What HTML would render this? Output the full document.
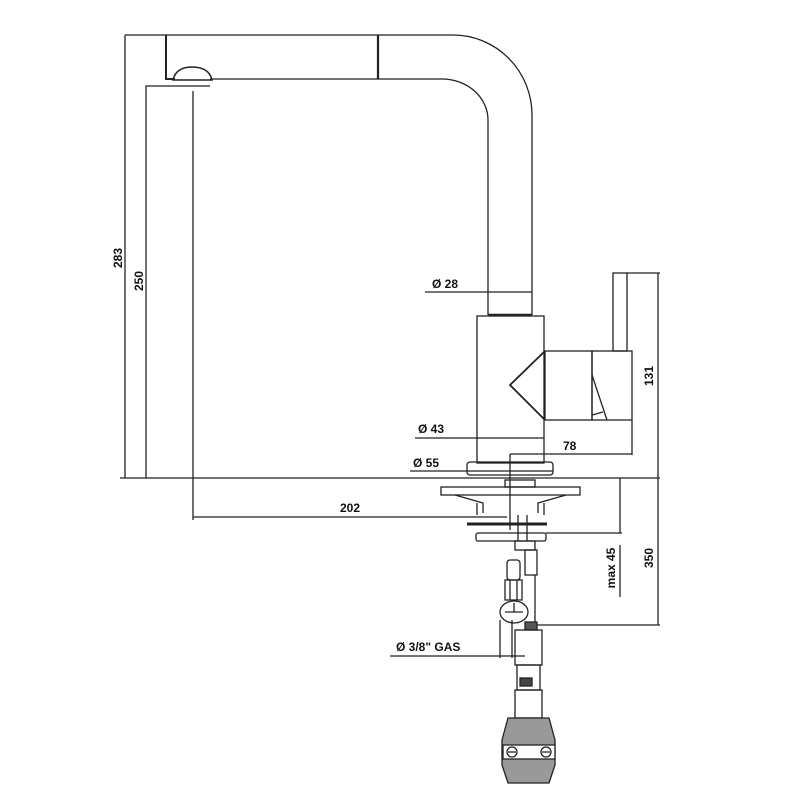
<!DOCTYPE html>
<html><head><style>html,body{margin:0;padding:0;background:#fff;width:800px;height:800px;overflow:hidden}</style></head>
<body>
<svg width="800" height="800" viewBox="0 0 800 800" xmlns="http://www.w3.org/2000/svg" font-family="Liberation Sans, sans-serif" font-weight="bold" font-size="12" fill="none" stroke="#222" stroke-width="1.3">
<!-- spout -->
<path d="M125 35 H453 A79 80 0 0 1 532 115 V315"/>
<path d="M210 79 H442 A46 41 0 0 1 488 120 V315"/>
<path d="M166 35 V79 H175" stroke-width="2"/>
<path d="M378 35 V79" stroke-width="2.2"/>
<path d="M173 80 Q176 67 192 67 Q209 67 212 80 Z" stroke-width="1.5"/>
<path d="M146 478 V86 H210"/>
<path d="M193 91 V520"/>
<!-- 283 / 250 dims -->
<line x1="125" y1="35" x2="125" y2="478"/>
<text x="0" y="0" fill="#111" stroke="none" transform="translate(122,258) rotate(-90)" text-anchor="middle">283</text>
<text x="0" y="0" fill="#111" stroke="none" transform="translate(143,281) rotate(-90)" text-anchor="middle">250</text>
<line x1="488" y1="315" x2="532" y2="315" stroke-width="2.5"/>
<!-- Ø28 -->
<line x1="425" y1="292" x2="532" y2="292"/>
<text x="432" y="288" fill="#111" stroke="none">Ø 28</text>
<!-- body -->
<rect x="477" y="316" width="67" height="147"/>
<path d="M545 351 L510 385 L545 420" stroke-width="1.8"/>
<rect x="545" y="351" width="47" height="69"/>
<rect x="592" y="351" width="40" height="69"/>
<path d="M592 375 L607 420"/>
<path d="M592 415 L603 412"/>
<rect x="613" y="273" width="14" height="78"/>
<!-- 131 -->
<line x1="627" y1="273" x2="660" y2="273"/>
<line x1="658" y1="273" x2="658" y2="625"/>
<text fill="#111" stroke="none" transform="translate(653,376) rotate(-90)" text-anchor="middle">131</text>
<!-- Ø43 -->
<line x1="415" y1="438" x2="544" y2="438"/>
<text x="418" y="433" fill="#111" stroke="none">Ø 43</text>
<!-- 78 -->
<line x1="510" y1="454" x2="632" y2="454"/>
<line x1="632" y1="420" x2="632" y2="455"/>
<line x1="510" y1="454" x2="510" y2="530"/>
<text x="563" y="450" fill="#111" stroke="none">78</text>
<!-- Ø55 flange -->
<rect x="467" y="462" width="86" height="13" rx="3"/>
<line x1="410" y1="471" x2="553" y2="471"/>
<text x="413" y="467" fill="#111" stroke="none">Ø 55</text>
<!-- counter -->
<line x1="120" y1="478" x2="660" y2="478"/>
<!-- under plate -->
<rect x="505" y="480" width="30" height="7"/>
<rect x="441" y="487" width="139" height="8"/>
<path d="M455 495 L483 503 V513 M566 495 L538 503 V513"/>
<line x1="477" y1="503" x2="477" y2="515"/>
<line x1="544" y1="503" x2="544" y2="515"/>
<line x1="518" y1="515" x2="518" y2="541"/>
<line x1="527" y1="515" x2="527" y2="541"/>
<line x1="467" y1="524" x2="547" y2="524" stroke-width="3"/>
<rect x="476" y="533" width="70" height="8" rx="2"/>
<!-- 202 -->
<line x1="193" y1="517" x2="507" y2="517"/>
<text x="340" y="512" fill="#111" stroke="none">202</text>
<!-- max45 -->
<line x1="620" y1="478" x2="620" y2="533"/>
<line x1="546" y1="533" x2="622" y2="533"/>
<line x1="620" y1="545" x2="620" y2="597"/>
<text fill="#111" stroke="none" transform="translate(615,568) rotate(-90)" text-anchor="middle">max 45</text>
<!-- 350 -->
<line x1="537" y1="625" x2="660" y2="625"/>
<text fill="#111" stroke="none" transform="translate(653,558) rotate(-90)" text-anchor="middle">350</text>
<!-- hoses -->
<rect x="515" y="541" width="20" height="9"/>
<rect x="525" y="550" width="12" height="25"/>
<line x1="535" y1="575" x2="535" y2="625"/>
<rect x="507" y="560" width="13" height="20" rx="3"/>
<rect x="505" y="580" width="17" height="20"/>
<line x1="510" y1="580" x2="510" y2="600"/><line x1="517" y1="580" x2="517" y2="600"/>
<ellipse cx="514" cy="612" rx="14" ry="11"/>
<path d="M505 612 H523 M514 603 V612"/>
<rect x="525" y="622" width="12" height="8" fill="#555"/>
<rect x="515" y="630" width="27" height="35"/>
<line x1="500" y1="620" x2="500" y2="658"/><line x1="512" y1="620" x2="512" y2="658"/>
<line x1="390" y1="656" x2="525" y2="656"/>
<text x="396" y="651" fill="#111" stroke="none">Ø 3/8" GAS</text>
<rect x="517" y="665" width="23" height="25"/>
<rect x="520" y="678" width="12" height="8" fill="#444"/>
<rect x="515" y="690" width="27" height="28"/>
<path d="M508 718 H549 L555 740 V765 L549 783 H508 L502 765 V740 Z" fill="#999" stroke="#222"/>
<rect x="503" y="745" width="52" height="14" fill="#fff"/>
<circle cx="512" cy="752" r="5" fill="#fff"/><circle cx="546" cy="752" r="5" fill="#fff"/>
<path d="M508 752 H516 M542 752 H550"/>
</svg>
</body></html>
